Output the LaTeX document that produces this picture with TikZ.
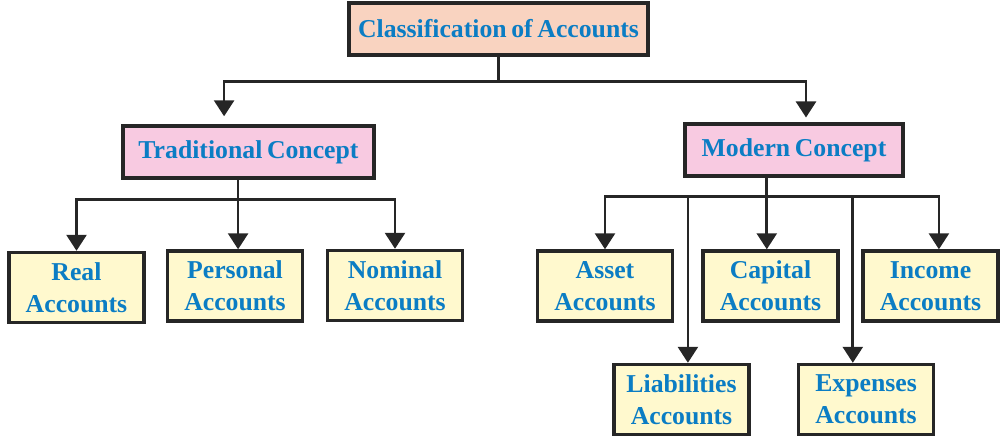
\documentclass[tikz,border=0pt]{standalone}
\usepackage{fontspec}
\setmainfont{Liberation Serif}
\usetikzlibrary{arrows.meta}
\definecolor{txtblue}{HTML}{0B7DC4}
\definecolor{peach}{HTML}{F9D3C0}
\definecolor{pinkbox}{HTML}{F8CAE1}
\definecolor{cream}{HTML}{FFF9CE}
\newcommand\boxfont{\fontsize{18.3}{22.8}\selectfont\bfseries\spaceskip=0.18em\relax}
\tikzset{
  box/.style={draw=black!85, line width=2.4pt, text=txtblue,
    font=\boxfont, align=center, inner sep=0pt},
  head/.style={box, fill=peach, minimum width=7.475cm, minimum height=1.3cm},
  concept/.style={box, fill=pinkbox, minimum height=1.3cm},
  acct/.style={box, fill=cream, minimum width=3.375cm, minimum height=1.75cm},
  link/.style={line width=1.9pt, black!85},
  arr/.style={link, -{Triangle[width=0.5cm,length=0.4cm]}}
}

\begin{document}
\begin{tikzpicture}[x=0.025cm, y=-0.025cm]
  \useasboundingbox (0,0) rectangle (1004,444);
  % boxes
  \node[head] (cls) at (498.5,29) {Classification of Accounts};
  \node[concept, minimum width=6.275cm] (trad) at (248.5,152) {Traditional Concept};
  \node[concept, minimum width=5.45cm] (mod) at (794,150) {Modern Concept};
  \node[acct] (real) at (76.5,287.5) {Real\\Accounts};
  \node[acct] (pers) at (235,286) {Personal\\Accounts};
  \node[acct] (nom) at (395,285.5) {Nominal\\Accounts};
  \node[acct] (asset) at (605,286) {Asset\\Accounts};
  \node[acct] (cap) at (770.5,286) {Capital\\Accounts};
  \node[acct] (inc) at (930.5,286) {Income\\Accounts};
  \node[acct] (liab) at (681.5,399.5) {Liabilities\\Accounts};
  \node[acct] (exp) at (866,399.5) {Expenses\\Accounts};
  % top level
  \draw[link] (cls.south) -- ++(0,25) coordinate (c0);
  \draw[arr, shorten >=0.2cm] (c0) -| ([xshift=-0.61cm]trad.north);
  \draw[arr, shorten >=0.12cm] (c0) -| ([xshift=0.3cm]mod.north);
  % traditional concept
  \draw[link] ([xshift=-0.26cm]trad.south) -- ++(0,20) coordinate (c1);
  \draw[arr] (c1) -| (real.north);
  \draw[arr] (c1) -- (c1 |- pers.north);
  \draw[arr] (c1) -| (nom.north);
  % modern concept
  \draw[link] ([xshift=-0.68cm]mod.south) -- ++(0,19) coordinate (c2);
  \draw[arr] (c2) -| (asset.north);
  \draw[arr] (c2) -- (c2 |- cap.north);
  \draw[arr] (c2) -| ([xshift=0.21cm]inc.north);
  \draw[arr] (c2) -| ([xshift=0.16cm]liab.north);
  \draw[arr] (c2) -| ([xshift=-0.33cm]exp.north);
\end{tikzpicture}
\end{document}
